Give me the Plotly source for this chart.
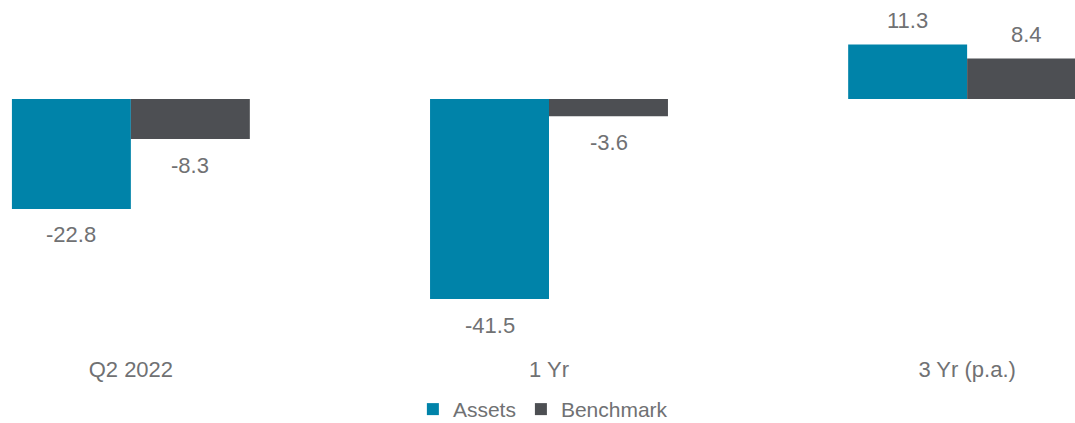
import plotly.graph_objects as go

categories = ["Q2 2022", "1 Yr", "3 Yr (p.a.)"]
assets = [-22.8, -41.5, 11.3]
benchmark = [-8.3, -3.6, 8.4]
series_names = ["Assets", "Benchmark"]

C_ASSETS = "#0083A9"
C_BENCH = "#4D4F53"
TXT = "#707173"
FONT = "Liberation Sans, Arial, sans-serif"
FS = 22

fig = go.Figure()
fig.add_trace(go.Bar(x=categories, y=assets, name=series_names[0],
                     marker=dict(color=C_ASSETS, line=dict(width=0))))
fig.add_trace(go.Bar(x=categories, y=benchmark, name=series_names[1],
                     marker=dict(color=C_BENCH, line=dict(width=0))))

annotations = []
for vals, shift in ((assets, -59.5), (benchmark, 59.5)):
    for c, v in zip(categories, vals):
        annotations.append(dict(
            x=c, y=v, xref="x", yref="y", text=f"{v:.1f}", showarrow=False,
            xshift=shift, yshift=(24 if v >= 0 else -26),
            font=dict(family=FONT, size=FS, color=TXT)))

fig.update_layout(
    width=1075, height=423,
    margin=dict(l=0, r=0, t=0, b=69, autoexpand=False),
    paper_bgcolor="white", plot_bgcolor="white",
    barmode="group", bargap=0.431, bargroupgap=0,
    font=dict(family=FONT, size=FS, color=TXT),
    xaxis=dict(range=[-0.313, 2.258], showgrid=False, zeroline=False,
               showline=False, ticks="", tickfont=dict(size=FS, color=TXT)),
    yaxis=dict(range=[-52.9, 20.54], visible=False, showgrid=False, zeroline=False),
    showlegend=True,
    legend=dict(orientation="h", x=0.505, xanchor="center",
                yref="container", y=0.032, yanchor="middle",
                font=dict(size=21, color=TXT), itemwidth=30, traceorder="normal",
                tracegroupgap=0),
    annotations=annotations,
)

fig.write_html("out.html")
